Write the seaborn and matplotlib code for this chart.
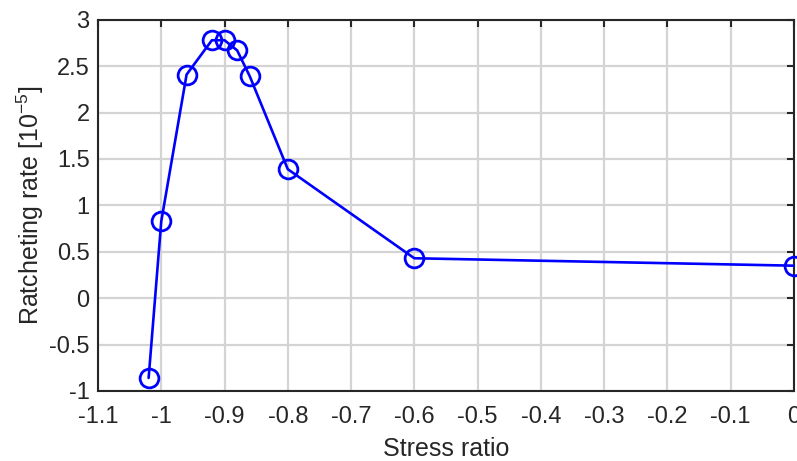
import matplotlib
matplotlib.use("Agg")
import matplotlib.pyplot as plt
import seaborn as sns

stress_ratio = [-1.02, -1.00, -0.96, -0.92, -0.90, -0.88, -0.86, -0.80, -0.60, 0.00]
ratchet_rate = [-0.86, 0.83, 2.41, 2.78, 2.78, 2.67, 2.39, 1.39, 0.43, 0.35]

xticks = [-1.1, -1.0, -0.9, -0.8, -0.7, -0.6, -0.5, -0.4, -0.3, -0.2, -0.1, 0.0]
xticklabels = ['-1.1', '-1', '-0.9', '-0.8', '-0.7', '-0.6', '-0.5', '-0.4', '-0.3', '-0.2', '-0.1', '0']
yticks = [-1, -0.5, 0, 0.5, 1, 1.5, 2, 2.5, 3]
yticklabels = ['-1', '-0.5', '0', '0.5', '1', '1.5', '2', '2.5', '3']

sns.set_style('white')
plt.rcParams['font.family'] = ['Liberation Sans', 'DejaVu Sans']
plt.rcParams['mathtext.default'] = 'regular'

fig = plt.figure(figsize=(7.97, 4.61), dpi=100)
ax = fig.add_axes([0.123, 0.152, 0.873, 0.805])

sns.lineplot(x=stress_ratio, y=ratchet_rate, ax=ax, color='#0000ff', linewidth=1.9,
             marker='o', markersize=13.5, markerfacecolor='none',
             markeredgecolor='#0000ff', markeredgewidth=2, clip_on=False, zorder=5)

ax.set_xlim(-1.1, 0)
ax.set_ylim(-1, 3)
ax.set_xticks(xticks)
ax.set_xticklabels(xticklabels)
ax.set_yticks(yticks)
ax.set_yticklabels(yticklabels)
ax.grid(True, color='#d4d4d4', linewidth=1.6)
ax.set_axisbelow(True)
for s in ax.spines.values():
    s.set_color('#262626')
    s.set_linewidth(1.5)
ax.tick_params(direction='in', length=5, width=1.5, top=True, right=True,
               labelsize=17, colors='#262626')
ax.tick_params(axis='x', pad=11)
ax.tick_params(axis='y', pad=6)
ax.set_xlabel('Stress ratio', fontsize=18, color='#262626', labelpad=6)
ax.set_ylabel('Ratcheting rate [10$^{-5}$]', fontsize=18, color='#262626', labelpad=2)

fig.savefig('out.png', dpi=100)
